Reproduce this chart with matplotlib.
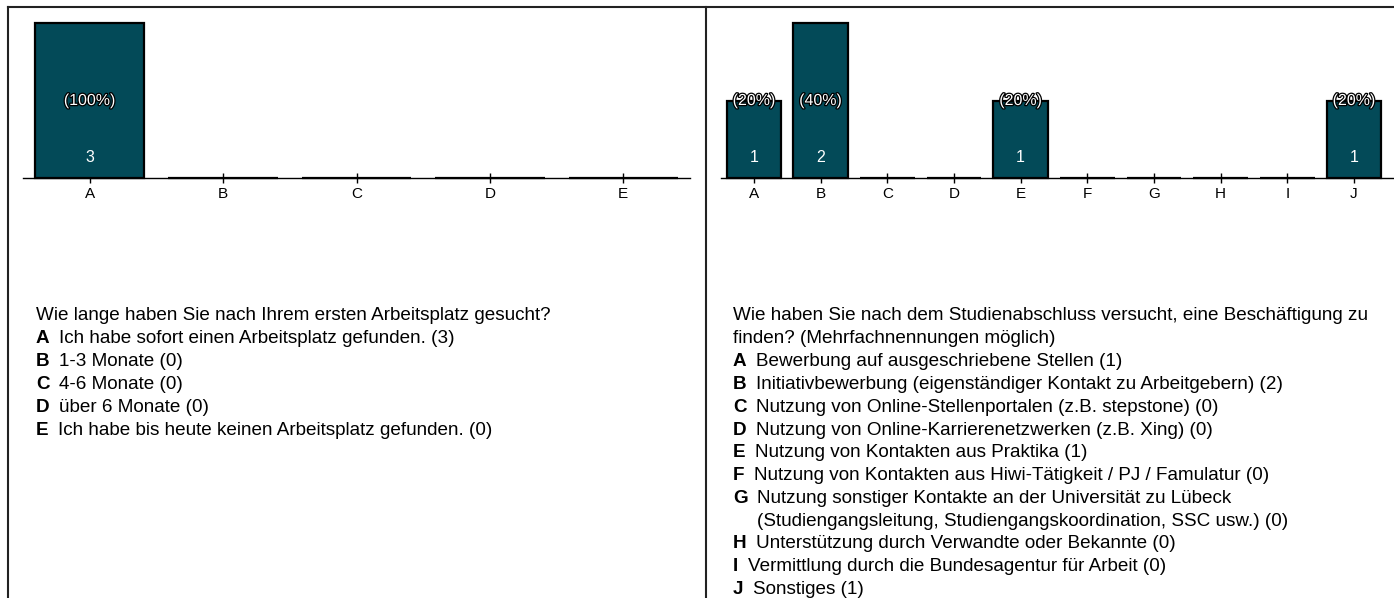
import matplotlib
matplotlib.use("Agg")
import matplotlib.pyplot as plt
import matplotlib.patheffects as pe
from matplotlib.lines import Line2D

plt.rcParams['font.family'] = ['Liberation Sans', 'DejaVu Sans']

# data
left_cats = ['A', 'B', 'C', 'D', 'E']
left_vals = [3, 0, 0, 0, 0]
left_question = ["Wie lange haben Sie nach Ihrem ersten Arbeitsplatz gesucht?"]
left_answers = ["Ich habe sofort einen Arbeitsplatz gefunden.",
                "1-3 Monate",
                "4-6 Monate",
                "über 6 Monate",
                "Ich habe bis heute keinen Arbeitsplatz gefunden."]

right_cats = ['A', 'B', 'C', 'D', 'E', 'F', 'G', 'H', 'I', 'J']
right_vals = [1, 2, 0, 0, 1, 0, 0, 0, 0, 1]
right_question = ["Wie haben Sie nach dem Studienabschluss versucht, eine Beschäftigung zu",
                  "finden? (Mehrfachnennungen möglich)"]
right_answers = ["Bewerbung auf ausgeschriebene Stellen",
                 "Initiativbewerbung (eigenständiger Kontakt zu Arbeitgebern)",
                 "Nutzung von Online-Stellenportalen (z.B. stepstone)",
                 "Nutzung von Online-Karrierenetzwerken (z.B. Xing)",
                 "Nutzung von Kontakten aus Praktika",
                 "Nutzung von Kontakten aus Hiwi-Tätigkeit / PJ / Famulatur",
                 "Nutzung sonstiger Kontakte an der Universität zu Lübeck\n"
                 "(Studiengangsleitung, Studiengangskoordination, SSC usw.)",
                 "Unterstützung durch Verwandte oder Bekannte",
                 "Vermittlung durch die Bundesagentur für Arbeit",
                 "Sonstiges"]

W, H = 1394, 598
BAR = '#034a58'
LINE = 22.8  # px between text lines
FS = 13.6
fig = plt.figure(figsize=(W / 100, H / 100), dpi=100)


def px_axes(x0, x1, ytop, ybot):
    return fig.add_axes([x0 / W, 1 - ybot / H, (x1 - x0) / W, (ybot - ytop) / H])


def bar_panel(ax, cats, vals, xmax):
    x = list(range(len(cats)))
    ax.bar(x, vals, width=0.82, color=BAR, edgecolor='black', linewidth=1.6,
           clip_on=False, zorder=2)
    top = max(vals)
    total = sum(vals)
    ax.set_ylim(0, top)
    ax.set_xlim(-0.5, xmax)
    for xi, v in zip(x, vals):
        if v == 0:
            continue
        ax.text(xi, top / 2, '(%d%%)' % round(100 * v / total), color='white',
                ha='center', va='center', fontsize=11.5, zorder=3,
                path_effects=[pe.withStroke(linewidth=1.8, foreground='black')])
        ax.annotate(str(v), xy=(xi, 0), xytext=(0, 14.4), textcoords='offset points',
                    color='white', ha='center', va='center', fontsize=11.5, zorder=3)
    for s in ['top', 'left', 'right']:
        ax.spines[s].set_visible(False)
    ax.spines['bottom'].set_linewidth(1.0)
    ax.set_yticks([])
    ax.set_xticks(x)
    ax.set_xticklabels(cats, fontsize=11)
    ax.tick_params(axis='x', direction='inout', length=7.2, width=1.0, pad=3)
    ax.patch.set_visible(False)


ax1 = px_axes(23, 690, 23, 178)
bar_panel(ax1, left_cats, left_vals, 4.5)
ax2 = px_axes(720.7, 1394, 23, 178)
bar_panel(ax2, right_cats, right_vals, 9.6)


def text_block(x, y, question, cats, answers, vals):
    for q in question:
        fig.text(x / W, 1 - y / H, q, fontsize=FS, va='center', ha='left')
        y += LINE
    for c, a, v in zip(cats, answers, vals):
        lines = a.split('\n')
        lines[-1] = lines[-1] + ' (%d)' % v
        yf = 1 - y / H
        lt = fig.text(x / W, yf, c, fontsize=FS, fontweight='bold',
                      va='center', ha='left')
        # rest of the line starts right after the bold letter
        rest = plt.annotate(lines[0], xy=(1, yf), xycoords=(lt, 'figure fraction'),
                            xytext=(7, 0), textcoords='offset points',
                            va='center', ha='left', fontsize=FS,
                            annotation_clip=False)
        for extra in lines[1:]:
            y += LINE
            plt.annotate(extra, xy=(0, 1 - y / H), xycoords=(rest, 'figure fraction'),
                         va='center', ha='left', fontsize=FS,
                         annotation_clip=False)
        y += LINE


text_block(36, 316, left_question, left_cats, left_answers, left_vals)
text_block(733, 316, right_question, right_cats, right_answers, right_vals)

# panel frame lines
for xs, ys in [((8, 1394), (7, 7)), ((8, 8), (7, 598)), ((706, 706), (7, 598))]:
    fig.add_artist(Line2D([v / W for v in xs], [1 - v / H for v in ys],
                          color='#222222', linewidth=1.5, transform=fig.transFigure))

fig.savefig('out.png', dpi=100)
